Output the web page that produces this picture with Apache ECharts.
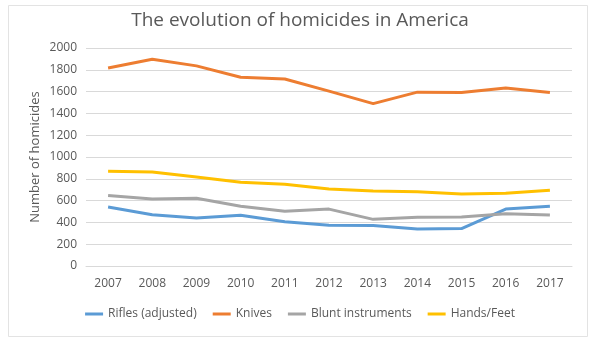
<!DOCTYPE html>
<html>
<head>
<meta charset="utf-8">
<script src="https://cdn.jsdelivr.net/npm/echarts@6/dist/echarts.min.js"></script>
<style>html,body{margin:0;padding:0;background:#fff}#c{width:600px;height:361px}</style>
</head>
<body>
<div id="c"></div>
<script>
var years = ['2007','2008','2009','2010','2011','2012','2013','2014','2015','2016','2017'];
var rifles = [541, 471, 440, 466, 405, 373, 371, 340, 344, 522, 548];
var knives = [1817, 1897, 1836, 1732, 1716, 1604, 1490, 1595, 1591, 1632, 1591];
var blunt = [647, 614, 621, 549, 502, 522, 428, 447, 450, 480, 467];
var hands = [869, 862, 817, 769, 751, 707, 687, 682, 660, 668, 696];
var seriesNames = ['Rifles (adjusted)', 'Knives', 'Blunt instruments', 'Hands/Feet'];
var colors = ['#5B9BD5', '#ED7D31', '#A5A5A5', '#FFC000'];
var F = '"Open Sans", sans-serif';
var chart = echarts.init(document.getElementById('c'));
function mk(name, data, color) {
  return {name: name, type: 'line', data: data, symbol: 'none', smooth: false,
    lineStyle: {width: 3, color: color}, itemStyle: {color: color}};
}
chart.setOption({
  animation: false,
  backgroundColor: '#fff',
  graphic: [{type: 'rect', shape: {x: 8.5, y: 5.5, width: 579, height: 331},
    style: {fill: 'none', stroke: '#E3E3E3', lineWidth: 1}, z: -1}],
  title: {text: 'The evolution of homicides in America', left: 'center', top: 6,
    textStyle: {fontFamily: F, fontSize: 19, fontWeight: 'normal', color: '#595959'}},
  legend: {data: seriesNames, bottom: 36, left: 'center', itemWidth: 18, itemHeight: 3, itemGap: 16,
    icon: 'rect', textStyle: {fontFamily: F, fontSize: 12, color: '#595959'}},
  grid: {left: 86, right: 28, top: 48, bottom: 95},
  xAxis: {type: 'category', data: years, boundaryGap: true,
    axisLine: {lineStyle: {color: '#D9D9D9'}}, axisTick: {show: false},
    axisLabel: {fontFamily: F, fontSize: 12, color: '#595959', margin: 12}},
  yAxis: {type: 'value', min: 0, max: 2000, interval: 200,
    name: 'Number of homicides', nameLocation: 'middle', nameRotate: 90, nameGap: 44,
    nameMoveOverlap: false,
    nameTextStyle: {fontFamily: F, fontSize: 13, color: '#595959'},
    axisLine: {show: false}, axisTick: {show: false},
    splitLine: {lineStyle: {color: '#D9D9D9'}},
    axisLabel: {fontFamily: F, fontSize: 12, color: '#595959', margin: 9,
      formatter: function (v) { return String(v); }}},
  series: [mk(seriesNames[0], rifles, colors[0]), mk(seriesNames[1], knives, colors[1]),
           mk(seriesNames[2], blunt, colors[2]), mk(seriesNames[3], hands, colors[3])]
});
</script>
</body>
</html>
